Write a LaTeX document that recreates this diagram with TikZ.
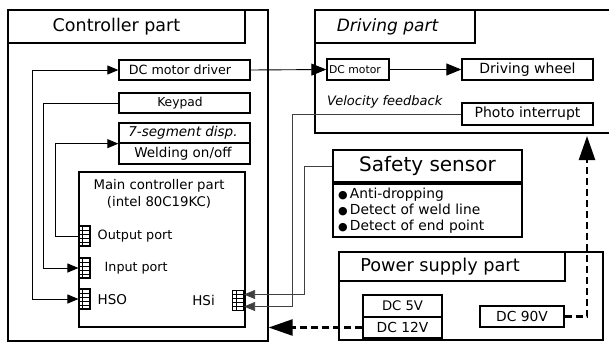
\documentclass[tikz,border=0pt]{standalone}
\usepackage{fontspec}
\setmainfont{DejaVu Sans}
\usetikzlibrary{arrows.meta}
\newcommand{\fz}[1]{\fontsize{#1}{#1}\selectfont}
\begin{document}
\begin{tikzpicture}[x=1pt,y=-1pt,
  outer/.style={draw, line width=1.2pt, inner sep=0pt},
  titlebox/.style={draw, line width=2.6pt, inner sep=0pt},
  sbox/.style={draw, line width=1.3pt, inner sep=0pt},
  txt/.style={inner sep=0pt},
  conn/.style={line width=0.9pt},
  fb/.style={line width=0.7pt, draw=black!75},
  pwr/.style={line width=2.4pt, dash pattern=on 7pt off 4pt},
  sa/.style={-{Triangle[length=11pt,width=9pt]}},
  ba/.style={-{Triangle[length=15pt,width=12pt]}},
  pa/.style={-{Triangle[length=24pt,width=16pt]}},
  port/.style={draw, line width=1.1pt, minimum width=11pt, minimum height=20pt, inner sep=0pt,
    path picture={
      \foreach \k in {-6,-2,2,6}
        \draw[line width=0.5pt] ([yshift=\k pt]path picture bounding box.west) -- ([yshift=\k pt]path picture bounding box.east);
      \draw[line width=0.5pt] ([xshift=3.5pt]path picture bounding box.north west) -- ([xshift=3.5pt]path picture bounding box.south west);
    }}
]
\useasboundingbox (0,0) rectangle (609,343);

% ---------- Controller part ----------
\node[outer, minimum width=260pt, minimum height=331pt] (ctrl) at (138,175.5) {};
\node[titlebox, minimum width=237pt, minimum height=33pt, font=\fz{17.5}] (ctitle) at (126.5,26.5) {Controller part\hspace*{20pt}};

\node[sbox, minimum width=131pt, minimum height=20pt, font=\fz{12.7}] (drv) at (184.5,70) {DC motor driver\hspace*{9pt}};
\node[sbox, minimum width=131pt, minimum height=20pt, font=\fz{12.3}] (key) at (184.5,103) {Keypad\hspace*{9pt}};
\node[sbox, minimum width=131pt, minimum height=20pt, font=\fz{13.5}\itshape] (seg) at (184.5,133) {7-segment disp.\hspace*{3pt}};
\node[sbox, minimum width=131pt, minimum height=21pt, font=\fz{13.5}] (weld) at (184.5,153.5) {Welding on/off\hspace*{3pt}};

\node[sbox, minimum width=166pt, minimum height=155pt] (main) at (162,249.5) {};
\node[txt, align=center, font=\fz{13.3}] (maintxt) at (159,194) {Main controller part\\[4pt](intel 80C19KC)};

\node[port] (outp) at (84.5,236) {};
\node[port] (inp) at (84.5,268) {};
\node[port] (hso) at (84.5,299) {};
\node[port] (hsi) at (238,300.5) {};
\node[txt, anchor=west, font=\fz{12.8}] (outl) at (97.5,236) {Output port};
\node[txt, anchor=west, font=\fz{12.7}] (inl) at (104.5,268) {Input port};
\node[txt, anchor=west, font=\fz{13.5}] (hsol) at (97.5,300) {HSO};
\node[txt, anchor=east, font=\fz{13.5}] (hsil) at (215,300) {HSi};

% ---------- Driving part ----------
\draw[line width=1.2pt] (609,10) -- (315,10) -- (315,133) -- (609,133);
\node[titlebox, minimum width=160pt, minimum height=33pt, font=\fz{17}\itshape] (dtitle) at (395,26.5) {Driving part\hspace*{15pt}};
\node[sbox, minimum width=62pt, minimum height=21pt, font=\fz{10.8}] (motor) at (358,69.5) {DC motor\hspace*{6pt}};
\node[sbox, minimum width=131pt, minimum height=21pt, font=\fz{14}] (wheel) at (527.5,69.5) {Driving wheel};
\node[txt, anchor=west, font=\fz{13}\itshape] (vel) at (327,102) {Velocity feedback};
\node[sbox, minimum width=131pt, minimum height=22pt, font=\fz{14}] (photo) at (527.5,114) {Photo interrupt};
\coordinate (drvbot) at (587,136);

% ---------- Safety sensor ----------
\node[titlebox, minimum width=189pt, minimum height=32pt, font=\fz{20}] (saf) at (427.5,166) {Safety sensor};
\node[sbox, minimum width=189pt, minimum height=53pt, anchor=north, font=\fz{13.8},
      align=left, text width=179pt, inner xsep=5pt] (slist) at (saf.south)
  {{\fz{11}●}\,Anti-dropping\\[2pt]{\fz{11}●}\,Detect of weld line\\[2pt]{\fz{11}●}\,Detect of end point};

% ---------- Power supply part ----------
\node[outer, minimum width=264pt, minimum height=88pt] (pwrbox) at (471,296) {};
\node[titlebox, minimum width=226pt, minimum height=29pt, font=\fz{17.7}] (ptitle) at (452,266.5) {Power supply part\hspace*{24pt}};
\node[sbox, minimum width=79pt, minimum height=22pt, font=\fz{13.2}] (dc5) at (402.5,306) {DC 5V};
\node[sbox, minimum width=79pt, minimum height=21pt, font=\fz{13.8}] (dc12) at (402.5,327.5) {DC 12V};
\node[sbox, minimum width=84pt, minimum height=21pt, font=\fz{13.8}] (dc90) at (522,316.5) {DC 90V};

% ---------- Connectors ----------
\draw[conn, {Triangle[length=11pt,width=9pt]}-{Triangle[length=11pt,width=9pt]}] (drv.west) -- (32,70) |- (hso.west);
\draw[conn, sa] (key.west) -- (43,103) |- (inp.west);
\draw[conn, sa] (outp.west) -- (55,236) |- (seg.south west);
\draw[conn, ba] (drv.east) -- (motor.west);
\draw[conn, ba] (motor.east) -- (wheel.west);
\draw[fb, sa] (photo.west) -- (292,114) |- ([yshift=-6pt]hsi.east);
\draw[fb, sa] (saf.west) -- (304,166) |- ([yshift=6pt]hsi.east);
\draw[pwr, pa] (dc12.west) -- (ctrl.east |- dc12.west);
\draw[pwr, pa] (dc90.east) -- (587,316.5) -- (drvbot);
\end{tikzpicture}
\end{document}
